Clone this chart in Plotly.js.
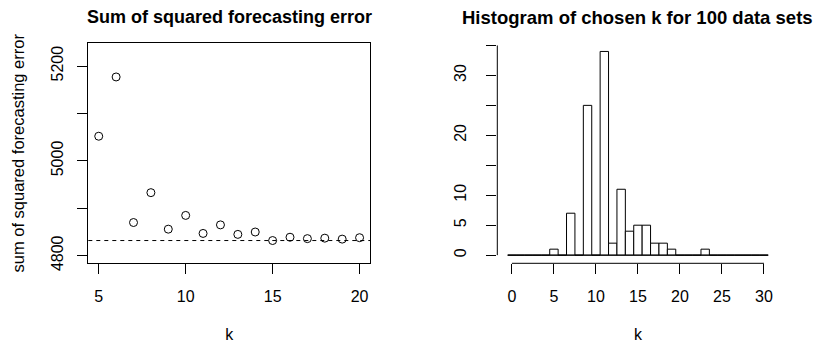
<!DOCTYPE html>
<html>
<head>
<meta charset="utf-8">
<script src="https://cdn.plot.ly/plotly-3.0.1.min.js"></script>
<style>
html,body{margin:0;padding:0;background:#fff;}
#chart{width:828px;height:346px;}
</style>
</head>
<body>
<div id="chart"></div>
<script>
// ---- data ----
const kValues = [5, 6, 7, 8, 9, 10, 11, 12, 13, 14, 15, 16, 17, 18, 19, 20];
const sseValues = [5052, 5177, 4870, 4933, 4856, 4885, 4847, 4865, 4845, 4850, 4832, 4839, 4836, 4837, 4835, 4838];
const chosenK = [0, 1, 2, 3, 4, 5, 6, 7, 8, 9, 10, 11, 12, 13, 14, 15, 16, 17, 18, 19, 20, 21, 22, 23, 24, 25, 26, 27, 28, 29, 30];
const chosenCounts = [0, 0, 0, 0, 0, 1, 0, 7, 0, 25, 0, 34, 2, 11, 4, 5, 5, 2, 2, 1, 0, 0, 0, 1, 0, 0, 0, 0, 0, 0, 0];
const leftXTicks = [5, 10, 15, 20];
const leftYTicks = [4800, 4900, 5000, 5100, 5200];
const leftYLabels = ['4800', '', '5000', '', '5200'];
const rightXTicks = [0, 5, 10, 15, 20, 25, 30];
const rightYTicks = [0, 5, 10, 15, 20, 25, 30, 35];
const rightYLabels = ['0', '5', '10', '', '20', '', '30', ''];
const leftTitle = 'Sum of squared forecasting error';
const rightTitle = 'Histogram of chosen k for 100 data sets';
const leftYTitle = 'sum of squared forecasting error';
const xTitle = 'k';

// ---- layout helpers ----
const W = 828, H = 346;
const FONT = 'Liberation Sans, Arial, Helvetica, sans-serif';
const px = v => v / W;
const py = v => 1 - v / H;
const yDom = [py(263.3), py(43.3)];

const minSse = Math.min(...sseValues);

const traces = [
  {
    type: 'scatter', mode: 'markers', x: kValues, y: sseValues,
    xaxis: 'x', yaxis: 'y',
    marker: {symbol: 'circle-open', size: 8, color: '#000', line: {width: 1, color: '#000'}},
    hoverinfo: 'x+y', showlegend: false
  },
  {
    type: 'bar', x: chosenK, y: chosenCounts,
    xaxis: 'x2', yaxis: 'y2', width: 1,
    marker: {color: '#fff', line: {color: '#000', width: 1}},
    showlegend: false
  }
];

const tickFont = {family: FONT, size: 16, color: '#000'};

const layout = {
  width: W, height: H,
  margin: {l: 0, r: 0, t: 0, b: 0},
  paper_bgcolor: '#fff', plot_bgcolor: '#fff',
  showlegend: false,
  bargap: 0,
  xaxis: {
    domain: [px(88.3), px(370)], range: [4.4, 20.6],
    tickvals: leftXTicks, ticktext: leftXTicks.map(String),
    ticks: 'outside', ticklen: 10, tickwidth: 1, tickcolor: '#000',
    showline: true, mirror: true, linecolor: '#000', linewidth: 1,
    showgrid: false, zeroline: false, tickfont: tickFont,
    ticklabelstandoff: 8,
    title: {text: xTitle, font: {family: FONT, size: 16, color: '#000'}, standoff: 25}
  },
  yaxis: {
    domain: yDom, range: [4784, 5248],
    tickvals: leftYTicks, ticktext: leftYLabels, tickangle: -90,
    ticks: 'outside', ticklen: 10, tickwidth: 1, tickcolor: '#000',
    showline: true, mirror: true, linecolor: '#000', linewidth: 1,
    showgrid: false, zeroline: false, tickfont: tickFont,
    ticklabelstandoff: 8,
    title: {text: leftYTitle, font: {family: FONT, size: 16.5, color: '#000'}, standoff: 20}
  },
  xaxis2: {
    domain: [px(497.3), px(778.6)], range: [-1.74, 31.74], anchor: 'y2',
    tickvals: rightXTicks, ticktext: rightXTicks.map(String),
    ticks: 'outside', ticklen: 10, tickwidth: 1, tickcolor: '#000',
    showline: false, showgrid: false, zeroline: false, tickfont: tickFont,
    ticklabelstandoff: 8,
    title: {text: xTitle, font: {family: FONT, size: 16, color: '#000'}, standoff: 25}
  },
  yaxis2: {
    domain: yDom, range: [-1.36, 35.36], anchor: 'x2',
    tickvals: rightYTicks, ticktext: rightYLabels, tickangle: -90,
    ticks: 'outside', ticklen: 10, tickwidth: 1, tickcolor: '#000',
    showline: false, showgrid: false, zeroline: false, tickfont: tickFont,
    ticklabelstandoff: 14
  },
  shapes: [
    // dashed reference line at minimum SSE
    {type: 'line', xref: 'x domain', yref: 'y', x0: 0, x1: 1, y0: minSse, y1: minSse,
     line: {color: '#000', width: 1, dash: '4px,4px'}},
    // histogram baseline
    {type: 'line', xref: 'x2', yref: 'y2',
     x0: Math.min(...chosenK) - 0.5, x1: Math.max(...chosenK) + 0.5, y0: 0, y1: 0,
     line: {color: '#000', width: 1}},
    // R-style x axis line (first to last tick)
    {type: 'line', xref: 'x2', yref: 'y2 domain',
     x0: rightXTicks[0], x1: rightXTicks[rightXTicks.length - 1], y0: 0, y1: 0,
     line: {color: '#000', width: 1}},
    // R-style y axis line (first to last tick)
    {type: 'line', xref: 'x2 domain', yref: 'y2',
     x0: 0, x1: 0, y0: rightYTicks[0], y1: rightYTicks[rightYTicks.length - 1],
     line: {color: '#000', width: 1}}
  ],
  annotations: [
    {text: '<b>' + leftTitle + '</b>', xref: 'paper', yref: 'paper',
     x: px(229), y: py(17), xanchor: 'center', yanchor: 'middle', showarrow: false,
     font: {family: FONT, size: 18, color: '#000'}},
    {text: '<b>' + rightTitle + '</b>', xref: 'paper', yref: 'paper',
     x: px(637), y: py(17), xanchor: 'center', yanchor: 'middle', showarrow: false,
     font: {family: FONT, size: 18.5, color: '#000'}}
  ]
};

Plotly.newPlot('chart', traces, layout, {displayModeBar: false, staticPlot: true});
</script>
</body>
</html>
